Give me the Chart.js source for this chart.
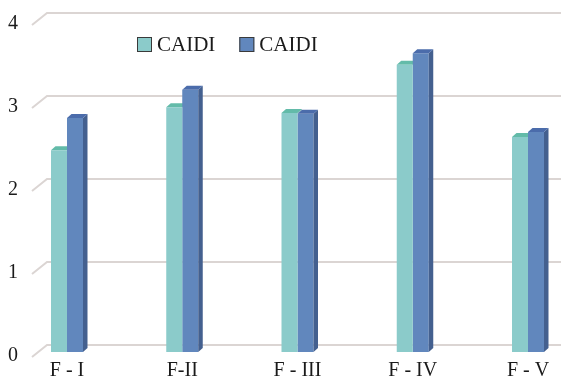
<!DOCTYPE html>
<html>
<head>
<meta charset="utf-8">
<script src="https://cdn.jsdelivr.net/npm/chart.js@4/dist/chart.umd.min.js"></script>
<style>
  html, body { margin: 0; padding: 0; background: #ffffff; }
  #wrap { width: 561px; height: 383px; position: relative; }
</style>
</head>
<body>
<div id="wrap"><canvas id="c" width="561" height="383"></canvas></div>
<script>
// Data
const categories = ['F - I', 'F-II', 'F - III', 'F - IV', 'F - V'];
const seriesNames = ['CAIDI', 'CAIDI'];
const caidiFirst = [2.43, 2.95, 2.88, 3.46, 2.59];
const caidiSecond = [2.82, 3.16, 2.87, 3.60, 2.65];
const yTickValues = [0, 1, 2, 3, 4];

// Styling
const FONT = 'Liberation Serif, Times New Roman, serif';
const TEXT_COLOR = '#1a1a1a';
const GRID_COLOR = '#dbd5d3';
const FRONT = ['#8bcbca', '#6187bd'];
const CAP = ['#63bba9', '#4b6cab'];
const SIDE = ['#6fa9a8', '#44608f'];
const DX = 4.5, DY = 4;          // bar depth in pixels
const WALL_X = 47, WALL_DY = -7; // back wall offset
const FLOOR_X = 32, FLOOR_DY = 5;

function quad(ctx, pts, fill) {
  ctx.beginPath();
  ctx.moveTo(pts[0], pts[1]);
  for (let i = 2; i < pts.length; i += 2) ctx.lineTo(pts[i], pts[i + 1]);
  ctx.closePath();
  ctx.fillStyle = fill;
  ctx.fill();
}

function barGeom(el) {
  const p = el.getProps(['x', 'y', 'base', 'width'], true);
  return { l: p.x - p.width / 2, r: p.x + p.width / 2, top: p.y, base: p.base };
}

// Back wall gridlines, side diagonals, and the depth faces of the bars
const depth3d = {
  id: 'depth3d',
  beforeDatasetsDraw(chart) {
    const ctx = chart.ctx;
    const ys = chart.scales.y;
    ctx.save();
    ctx.strokeStyle = GRID_COLOR;
    ctx.lineWidth = 2;
    yTickValues.forEach(v => {
      const py = ys.getPixelForValue(v);
      ctx.beginPath();
      ctx.moveTo(FLOOR_X, py + FLOOR_DY);
      ctx.lineTo(WALL_X, py + WALL_DY);
      ctx.lineTo(chart.width, py + WALL_DY);
      ctx.stroke();
    });
    const mA = chart.getDatasetMeta(0), mB = chart.getDatasetMeta(1);
    mA.data.forEach((el, i) => {
      const a = barGeom(el);
      const b = barGeom(mB.data[i]);
      quad(ctx, [a.l, a.top, a.r, a.top, a.r + DX, a.top - DY, a.l + DX, a.top - DY], CAP[0]);
      if (b.top > a.top) {
        quad(ctx, [a.r, a.top, a.r + DX, a.top - DY, a.r + DX, b.top - DY, a.r, b.top], SIDE[0]);
      }
    });
    ctx.restore();
  },
  afterDatasetsDraw(chart) {
    const ctx = chart.ctx;
    ctx.save();
    chart.getDatasetMeta(1).data.forEach(el => {
      const b = barGeom(el);
      quad(ctx, [b.r, b.top, b.r + DX, b.top - DY, b.r + DX, b.base - DY, b.r, b.base], SIDE[1]);
      quad(ctx, [b.l, b.top, b.r, b.top, b.r + DX, b.top - DY, b.l + DX, b.top - DY], CAP[1]);
    });
    ctx.restore();
  }
};

// Legend placed inside the plot
const innerLegend = {
  id: 'innerLegend',
  afterDraw(chart) {
    const ctx = chart.ctx;
    ctx.save();
    ctx.font = '21px ' + FONT;
    ctx.textBaseline = 'middle';
    ctx.textAlign = 'left';
    let x = 137;
    const yTop = 37, box = 15;
    chart.data.datasets.forEach(ds => {
      ctx.fillStyle = ds.backgroundColor;
      ctx.fillRect(x, yTop, box, box);
      ctx.strokeStyle = '#3a3a3a';
      ctx.lineWidth = 1;
      ctx.strokeRect(x + 0.5, yTop + 0.5, box - 1, box - 1);
      ctx.fillStyle = TEXT_COLOR;
      ctx.fillText(ds.label, x + box + 5, yTop + box / 2 + 1);
      x += box + 5 + ctx.measureText(ds.label).width + 24;
    });
    ctx.restore();
  }
};

new Chart(document.getElementById('c'), {
  type: 'bar',
  data: {
    labels: categories,
    datasets: [
      { label: seriesNames[0], data: caidiFirst, backgroundColor: FRONT[0], borderWidth: 0, clip: false },
      { label: seriesNames[1], data: caidiSecond, backgroundColor: FRONT[1], borderWidth: 0, clip: false }
    ]
  },
  options: {
    responsive: false,
    animation: false,
    events: [],
    layout: { padding: { top: 20, right: 33, left: 8, bottom: 0 } },
    datasets: { bar: { categoryPercentage: 0.2777, barPercentage: 1 } },
    plugins: { legend: { display: false }, tooltip: { enabled: false } },
    scales: {
      x: {
        offset: false,
        grid: { display: false, drawTicks: false },
        border: { display: false },
        afterFit: s => { s.height = 31; },
        ticks: {
          autoSkip: false, maxRotation: 0, padding: 7,
          color: TEXT_COLOR, font: { family: FONT, size: 20 }
        }
      },
      y: {
        min: 0, max: 4,
        grid: { display: false, drawTicks: false },
        border: { display: false },
        afterFit: s => { s.width = 59; },
        ticks: {
          stepSize: 1, padding: 0, labelOffset: 4, crossAlign: 'far',
          color: TEXT_COLOR, font: { family: FONT, size: 20 }
        }
      }
    }
  },
  plugins: [depth3d, innerLegend]
});
</script>
</body>
</html>
